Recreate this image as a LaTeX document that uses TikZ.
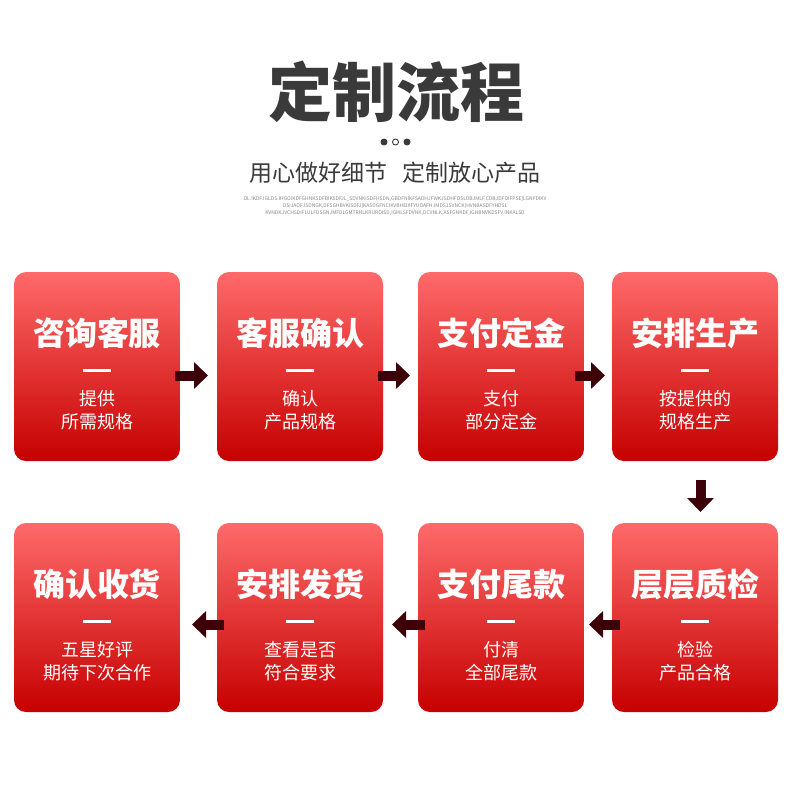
\documentclass[tikz,border=0pt]{standalone}
\usepackage{fontspec}
\setmainfont{Noto Sans CJK SC}
\usetikzlibrary{positioning,arrows.meta}
\definecolor{cardtop}{RGB}{255,106,106}
\definecolor{cardbot}{RGB}{198,0,0}
\definecolor{headgray}{RGB}{58,58,58}
\definecolor{arrowdark}{RGB}{62,0,8}
\definecolor{noisegray}{RGB}{135,135,135}
\tikzset{
  stepbox/.style={rectangle,rounded corners=12pt,top color=cardtop,bottom color=cardbot,minimum width=166pt,minimum height=189pt,inner sep=0pt,outer sep=0pt},
  steptitle/.style={text=white,font=\fontsize{32}{36}\bfseries\selectfont,inner sep=0pt},
  stepdash/.style={rectangle,fill=white,minimum width=28pt,minimum height=3pt,inner sep=0pt},
  stepsub/.style={text=white,align=center,font=\fontsize{18}{23}\selectfont,inner sep=0pt},
  dot/.style={circle,draw=headgray,line width=0.9pt,minimum size=6pt,inner sep=0pt},
  flow/.style={draw=arrowdark,line width=10pt,-{Triangle[length=14pt,width=26pt]}}
}
% one card: name, placement, title, text below the dash
\newcommand{\stepcard}[4]{%
  \node[stepbox,#2] (#1) {};
  \node[steptitle] (#1t) at ([yshift=33.5pt]#1.center) {#3};
  \node[stepdash] (#1d) at ([yshift=-3.5pt]#1.center) {};
  \node[stepsub] (#1s) at ([yshift=-43.5pt]#1.center) {#4};
}
\begin{document}
\begin{tikzpicture}[x=1pt,y=-1pt]
  \useasboundingbox[fill=white] (0,0) rectangle (790,785);
  % header
  \node[text=headgray,font=\fontsize{64}{70}\bfseries\selectfont,inner sep=0pt] (head) at (396,92) {定制流程};
  \node[dot,fill=headgray] (dot1) at (384,142) {};
  \node[dot,fill=white] (dot2) at (395.5,142) {};
  \node[dot,fill=headgray] (dot3) at (407,142) {};
  \node[text=headgray,font=\fontsize{23}{26}\selectfont,inner sep=0pt] (slogan) at (395,173) {用心做好细节\hspace{16pt}定制放心产品};
  \node[text=noisegray,align=center,font=\fontsize{5}{7}\selectfont,inner sep=0pt] (noise) at (395,206)
    {OL.IKDF.IGLDS.IHGOIKDFGHNKSDFBIKSDFJL\_SDVNKISDFHSDN,GBDFNIKFSADHJFWKJSDHFOSLDBJMLF.CDBJDFOIFPSE]LGNFDIKV\\
     OSIJAOF.ISDNGK,DFSGHBVKISDFJ]KASDGFNCIKVBHEIXFYUOAFH.IMDS1SVNCK]HVNBASDFYHDSL\\
     KVNDKJVCHSDIFUJLFDSGNJMFDLGMTRHLKRUROISD,IGMLSFDVNK,DCVNLK,ASFGNKDF,IGHBNVKDSFV.INKALSD};
  % first row
  \stepcard{b1}{at={(97,366.5)}}{咨询客服}{提供\\所需规格}
  \stepcard{b2}{right=37pt of b1}{客服确认}{确认\\产品规格}
  \stepcard{b3}{right=35pt of b2}{支付定金}{支付\\部分定金}
  \stepcard{b4}{right=28pt of b3}{安排生产}{按提供的\\规格生产}
  % second row, right to left
  \stepcard{b8}{below=62pt of b4}{层层质检}{检验\\产品合格}
  \stepcard{b7}{left=28pt of b8}{支付尾款}{付清\\全部尾款}
  \stepcard{b6}{left=35pt of b7}{安排发货}{查看是否\\符合要求}
  \stepcard{b5}{left=37pt of b6}{确认收货}{五星好评\\期待下次合作}
  % arrows
  \draw[flow] ([xshift=-5pt,yshift=-9pt]b1.east) -- ([xshift=-9pt,yshift=-9pt]b2.west);
  \draw[flow] ([xshift=-5pt,yshift=-9pt]b2.east) -- ([xshift=-8pt,yshift=-9pt]b3.west);
  \draw[flow] ([xshift=-9pt,yshift=-9pt]b3.east) -- ([xshift=-7pt,yshift=-9pt]b4.west);
  \draw[flow] ([xshift=5.5pt,yshift=-19pt]b4.south) -- ([xshift=5.5pt,yshift=11pt]b8.north);
  \draw[flow] ([xshift=8pt,yshift=-7pt]b8.west) -- ([xshift=5pt,yshift=-7pt]b7.east);
  \draw[flow] ([xshift=7pt,yshift=-7pt]b7.west) -- ([xshift=9pt,yshift=-7pt]b6.east);
  \draw[flow] ([xshift=7pt,yshift=-7pt]b6.west) -- ([xshift=12pt,yshift=-7pt]b5.east);
\end{tikzpicture}
\end{document}
